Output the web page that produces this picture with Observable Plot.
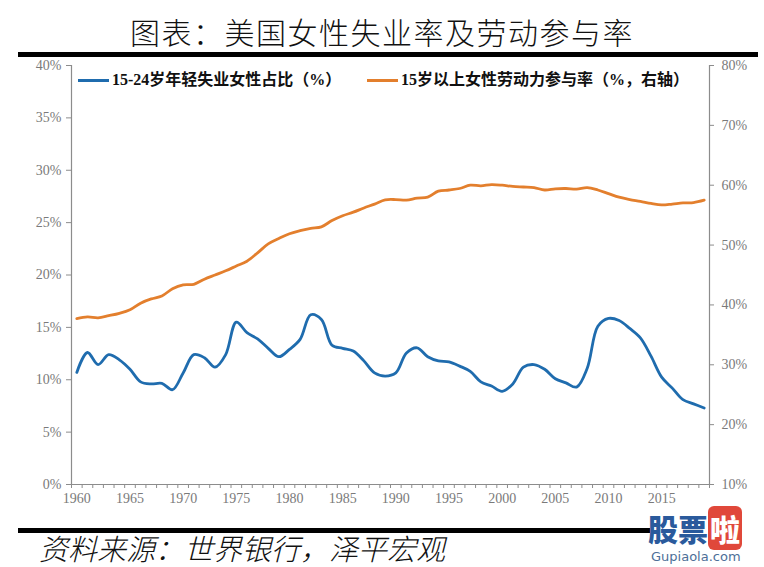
<!DOCTYPE html>
<html>
<head>
<meta charset="utf-8">
<script src="https://cdn.jsdelivr.net/npm/d3@7"></script>
<script src="https://cdn.jsdelivr.net/npm/@observablehq/plot@0.6"></script>
<style>
  html, body { margin: 0; padding: 0; background: #fff; }
  #wrap { position: relative; width: 764px; height: 567px; overflow: hidden; background: #fff; }
  #title { position: absolute; left: 0; top: 13px; width: 764px; text-align: center;
    font-family: "Noto Sans CJK SC", sans-serif; font-weight: 300; font-size: 30px; line-height: 36px; color: #111; letter-spacing: 1.5px; }
  .bar { position: absolute; background: #000; }
  #chart { position: absolute; left: 0; top: 58px; }
  #chart svg text { font-family: "Liberation Serif", serif !important; font-size: 14px !important; fill: #7a7a7a; }
  .leg { position: absolute; font-family: "Liberation Serif", "Noto Sans CJK SC", serif; font-weight: bold; font-size: 16px; line-height: 20px; color: #111; white-space: nowrap; }
  .legline { position: absolute; height: 3px; }
  #caption { position: absolute; left: 38px; top: 530px; font-family: "Noto Sans CJK SC", sans-serif; font-weight: 300; font-size: 29px; line-height: 34px; color: #111; transform: skewX(-14deg); transform-origin: left bottom; white-space: nowrap; }
  #wm { position: absolute; left: 648px; top: 512px; font-family: "Noto Sans CJK SC", sans-serif; font-weight: 900; font-size: 30px; line-height: 32px; }
  #wm .b { color: #2a5a9c; }
  #wm .r { color: #fff; background: #e0483a; border-radius: 6px; padding: 0 2px; }
  #wm2 { position: absolute; left: 651px; top: 549px; font-family: "DejaVu Sans", sans-serif; font-size: 13px; line-height: 16px; color: #4d6f98; }
</style>
</head>
<body>
<div id="wrap">
  <div id="title">图表：美国女性失业率及劳动参与率</div>
  <div class="bar" style="left:18px; top:52px; width:740px; height:5px;"></div>
  <div id="chart"></div>
  <div class="legline" style="left:78px; top:79px; width:31px; background:#1f6cae;"></div>
  <div class="leg" style="left:112px; top:70px;">15-24岁年轻失业女性占比（%）</div>
  <div class="legline" style="left:367px; top:79px; width:31px; background:#e37f2d;"></div>
  <div class="leg" style="left:401px; top:70px;">15岁以上女性劳动力参与率（%，右轴）</div>
  <div class="bar" style="left:18px; top:528px; width:632px; height:5px;"></div>
  <div id="caption">资料来源：世界银行，泽平宏观</div>
  <div id="wm"><span class="b">股票</span><span class="r">啦</span></div>
  <div id="wm2">Gupiaola.com</div>
</div>
<script>
// ---- data ----
const years = [1960,1961,1962,1963,1964,1965,1966,1967,1968,1969,
  1970,1971,1972,1973,1974,1975,1976,1977,1978,1979,
  1980,1981,1982,1983,1984,1985,1986,1987,1988,1989,
  1990,1991,1992,1993,1994,1995,1996,1997,1998,1999,
  2000,2001,2002,2003,2004,2005,2006,2007,2008,2009,
  2010,2011,2012,2013,2014,2015,2016,2017,2018,2019];

// 15-24岁年轻失业女性占比（%）, left axis
const youthUnemployedShare = [10.7,12.6,11.45,12.4,11.9,11.0,9.8,9.6,9.65,9.05,
  10.65,12.4,12.1,11.2,12.4,15.5,14.5,13.9,13.0,12.2,
  12.9,13.85,16.2,15.75,13.3,13.0,12.75,11.8,10.65,10.35,
  10.65,12.55,13.05,12.2,11.8,11.7,11.3,10.8,9.8,9.4,
  8.9,9.6,11.2,11.45,11.0,10.1,9.7,9.3,11.1,15.1,
  15.85,15.65,14.9,14.0,12.25,10.25,9.2,8.1,7.7,7.3];

// 15岁以上女性劳动力参与率（%，右轴）
const femaleLFPR = [37.7,38.0,37.85,38.2,38.6,39.2,40.3,41.0,41.5,42.7,
  43.35,43.45,44.3,45.0,45.7,46.5,47.3,48.7,50.2,51.1,
  51.9,52.4,52.8,53.05,54.1,54.9,55.5,56.2,56.85,57.55,
  57.6,57.5,57.85,58.0,59.0,59.2,59.45,60.0,59.9,60.1,
  60.0,59.8,59.7,59.6,59.2,59.4,59.45,59.35,59.6,59.2,
  58.6,58.0,57.6,57.3,56.95,56.7,56.85,57.05,57.1,57.5];

const leftTicks = [0,5,10,15,20,25,30,35,40];
const rightTicks = [10,20,30,40,50,60,70,80];
const xLabelYears = [1960,1965,1970,1975,1980,1985,1990,1995,2000,2005,2010,2015];

const blue = "#1f6cae";
const orange = "#e37f2d";
const axisGray = "#8c8c8c";

// right axis (10%–80%) mapped onto left axis (0%–40%)
const toLeft = v => (v - 10) * 40 / 70;
const fromLeft = v => Math.round(v * 70 / 40 + 10);

const table = years.map((year, i) => ({year, unemp: youthUnemployedShare[i], lfpr: femaleLFPR[i]}));
const yearEdges = [...years.map(y => y - 0.5), years[years.length - 1] + 0.5];

const chart = Plot.plot({
  width: 764,
  height: 462,
  marginTop: 7,
  marginBottom: 36,
  marginLeft: 71,
  marginRight: 55,
  x: {domain: [1959.5, 2019.5]},
  y: {domain: [0, 40]},
  style: {fontFamily: "Liberation Serif, serif", fontSize: "14px", color: "#7a7a7a", background: "transparent", overflow: "visible"},
  marks: [
    Plot.axisY(leftTicks, {anchor: "left", tickSize: 5, tickPadding: 5, stroke: axisGray, fontSize: 14, tickFormat: d => d + "%", label: null}),
    Plot.axisY(rightTicks.map(toLeft), {anchor: "right", tickSize: 4, tickPadding: 8, stroke: axisGray, fontSize: 14, tickFormat: d => fromLeft(d) + "%", label: null}),
    Plot.axisX(yearEdges, {tickSize: 4, stroke: axisGray, tickFormat: () => "", label: null}),
    Plot.axisX(xLabelYears, {tickSize: 0, tickPadding: 9, fontSize: 14, tickFormat: d => String(d), label: null}),
    Plot.ruleX([1959.5, 2019.5], {stroke: axisGray, strokeWidth: 1.2}),
    Plot.ruleY([0], {stroke: axisGray, strokeWidth: 1.2}),
    Plot.line(table, {x: "year", y: d => toLeft(d.lfpr), stroke: orange, strokeWidth: 2.8, curve: "catmull-rom"}),
    Plot.line(table, {x: "year", y: "unemp", stroke: blue, strokeWidth: 2.8, curve: "catmull-rom"})
  ]
});
document.getElementById("chart").appendChild(chart);
</script>
</body>
</html>
